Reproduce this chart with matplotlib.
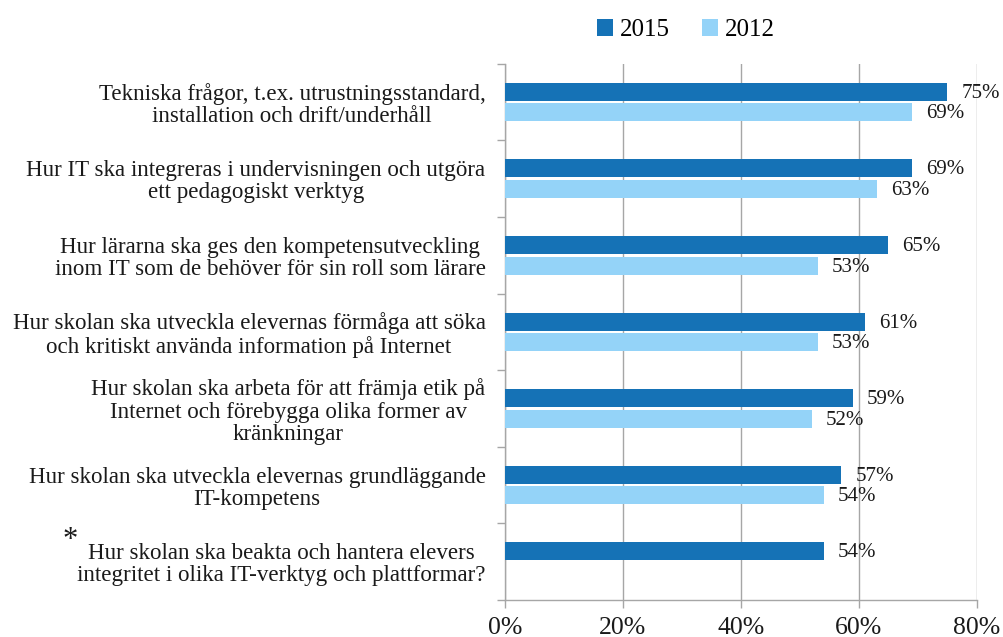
import matplotlib
matplotlib.use("Agg")
import matplotlib.pyplot as plt
import numpy as np

categories = [
    "Tekniska frågor, t.ex. utrustningsstandard,\ninstallation och drift/underhåll",
    "Hur IT ska integreras i undervisningen och utgöra\nett pedagogiskt verktyg",
    "Hur lärarna ska ges den kompetensutveckling\ninom IT som de behöver för sin roll som lärare",
    "Hur skolan ska utveckla elevernas förmåga att söka\noch kritiskt använda information på Internet",
    "Hur skolan ska arbeta för att främja etik på\nInternet och förebygga olika former av\nkränkningar",
    "Hur skolan ska utveckla elevernas grundläggande\nIT-kompetens",
    "Hur skolan ska beakta och hantera elevers\nintegritet i olika IT-verktyg och plattformar?",
]
values_2015 = [75, 69, 65, 61, 59, 57, 54]
values_2012 = [69, 63, 53, 53, 52, 54, None]
series_names = ["2015", "2012"]
xticks = [0, 20, 40, 60, 80]

plt.rcParams["font.family"] = ["Liberation Serif", "DejaVu Serif"]

c_dark = "#1572b6"
c_light = "#94d3f8"
grid_c = "#a6a6a6"
txt_c = "#1a1a1a"

fig = plt.figure(figsize=(10.04, 6.37), dpi=100)
ax = fig.add_axes([0.503, 0.058, 0.470, 0.842])

y = np.arange(len(categories))
h = 0.235
off = 0.135

ax.barh(y - off, values_2015, height=h, color=c_dark, label=series_names[0], zorder=3)
y12 = [yy for yy, v in zip(y, values_2012) if v is not None]
v12 = [v for v in values_2012 if v is not None]
ax.barh(np.array(y12) + off, v12, height=h, color=c_light, label=series_names[1], zorder=3)

for yy, v in zip(y, values_2015):
    ax.text(v + 2.4, yy - off + 0.02, f"{v}%", va="center", ha="left", fontsize=15, color=txt_c)
for yy, v in zip(y12, v12):
    ax.text(v + 2.4, yy + off + 0.02, f"{v}%", va="center", ha="left", fontsize=15, color=txt_c)

ax.set_xlim(0, 80)
ax.set_ylim(len(categories) - 0.5, -0.5)
ax.set_xticks(xticks)
ax.set_xticklabels([f"{t}%" for t in xticks], fontsize=18.5, color=txt_c)
ax.xaxis.grid(True, color=grid_c, linewidth=1.0, zorder=0)
ax.set_yticks(y)
ax.set_yticklabels(categories, fontsize=16.6, multialignment="center", color=txt_c,
                   linespacing=1.07)
ax.set_yticks(np.arange(-0.5, len(categories), 1.0), minor=True)
ax.tick_params(axis="y", which="major", length=0, pad=14)
ax.tick_params(axis="y", which="minor", length=6, color=grid_c, width=1.0)
ax.tick_params(axis="x", which="major", length=6, color=grid_c, width=1.0, pad=6)

for s in ["top", "right"]:
    ax.spines[s].set_visible(False)
for s in ["left", "bottom"]:
    ax.spines[s].set_color(grid_c)
    ax.spines[s].set_linewidth(1.0)

fig.text(0.070, 0.152, "*", fontsize=22, ha="center", va="center", color=txt_c)

fig.legend(loc="upper center", bbox_to_anchor=(0.683, 1.005), ncol=2, frameon=False,
           fontsize=18, handlelength=0.65, handleheight=0.65, handletextpad=0.25,
           columnspacing=1.3)

fig.savefig("out.png", dpi=100, facecolor="white")
